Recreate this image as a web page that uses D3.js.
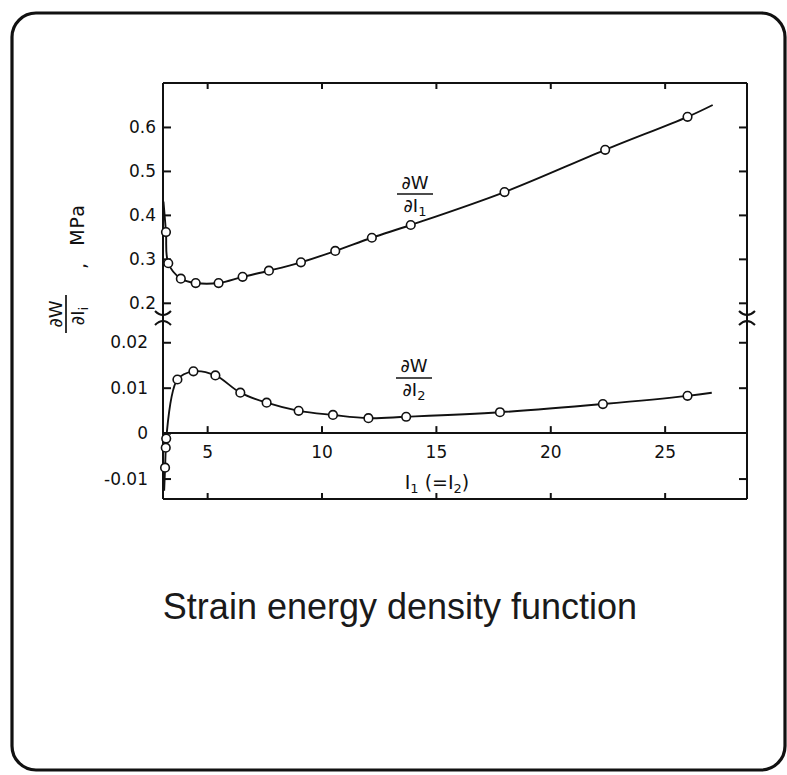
<!DOCTYPE html>
<html><head><meta charset="utf-8">
<script src="https://cdn.jsdelivr.net/npm/d3@7"></script>
<style>body{margin:0;background:#fff;} svg{display:block;}</style>
</head><body>
<svg id="c" width="787" height="775"></svg>
<script>
// ---- data ----
const xTicks = [5, 10, 15, 20, 25];
const xTickLabels = ["5", "10", "15", "20", "25"];
const upperTicks = [0.2, 0.3, 0.4, 0.5, 0.6];
const upperTickLabels = ["0.2", "0.3", "0.4", "0.5", "0.6"];
const lowerTicks = [0.02, 0.01, 0, -0.01];
const lowerTickLabels = ["0.02", "0.01", "0", "-0.01"];

// dW/dI1 (MPa) — markers
const i1Markers = [3.20, 3.30, 3.85, 4.50, 5.50, 6.55, 7.70, 9.10, 10.6, 12.2, 13.9, 18.0, 22.4, 26.0];
const dWdI1 = [0.361, 0.290, 0.255, 0.245, 0.245, 0.259, 0.273, 0.292, 0.318, 0.348, 0.377, 0.452, 0.548, 0.623];
const dWdI1Start = [3.09, 0.430];
const dWdI1End = [27.1, 0.650];

// dW/dI2 (MPa) — markers
const i2Markers = [3.16, 3.19, 3.21, 3.70, 4.40, 5.36, 6.45, 7.60, 9.00, 10.5, 12.05, 13.7, 17.8, 22.3, 26.0];
const dWdI2 = [-0.0076, -0.0032, -0.0012, 0.0118, 0.0136, 0.0127, 0.0089, 0.0067, 0.0049, 0.0040, 0.0033, 0.0036, 0.0046, 0.0064, 0.0082];
const dWdI2Start = [3.12, -0.0127];
const dWdI2End = [27.06, 0.0089];

const xDomain = [3.07, 28.6];
const upperDomain = [0.17, 0.70];
const lowerDomain = [-0.0145, 0.0249];

// ---- layout ----
const svg = d3.select("#c");
const L = 163, R = 747, T = 83, B = 499;
const breakTop = 316, breakBot = 320;

const x = d3.scaleLinear().domain(xDomain).range([L, R]);
const yU = d3.scaleLinear().domain(upperDomain).range([breakTop, T]);
const yL = d3.scaleLinear().domain(lowerDomain).range([B, breakBot]);

const ink = "#111";
const FONT = "DejaVu Sans, sans-serif";

// outer rounded frame
svg.append("rect").attr("x", 12).attr("y", 13).attr("width", 773).attr("height", 757)
  .attr("rx", 24).attr("fill", "none").attr("stroke", ink).attr("stroke-width", 3.2);

// plot frame
const g = svg.append("g").attr("stroke", ink).attr("fill", "none").attr("stroke-width", 2);
g.append("line").attr("x1", L).attr("x2", L).attr("y1", T).attr("y2", B);
g.append("line").attr("x1", R).attr("x2", R).attr("y1", T).attr("y2", B);
g.append("line").attr("x1", L).attr("x2", R).attr("y1", T).attr("y2", T);
g.append("line").attr("x1", L).attr("x2", R).attr("y1", B).attr("y2", B);
// zero line
g.append("line").attr("x1", L).attr("x2", R).attr("y1", yL(0)).attr("y2", yL(0));

// axes via d3
function styleAxis(sel) {
  sel.select(".domain").remove();
  sel.selectAll(".tick line").attr("stroke", ink).attr("stroke-width", 2);
  sel.selectAll(".tick text").attr("fill", ink).attr("font-family", FONT).attr("font-size", 17);
}
// left upper
svg.append("g").attr("transform", `translate(${L},0)`)
  .call(d3.axisLeft(yU).tickValues(upperTicks).tickFormat((d, i) => upperTickLabels[i]).tickSizeInner(-8).tickSizeOuter(0).tickPadding(7))
  .call(styleAxis);
// left lower (zero handled by zero line)
svg.append("g").attr("transform", `translate(${L},0)`)
  .call(d3.axisLeft(yL).tickValues(lowerTicks).tickFormat((d, i) => lowerTickLabels[i]).tickSizeInner(-8).tickSizeOuter(0).tickPadding(15))
  .call(styleAxis);
// right ticks
svg.append("g").attr("transform", `translate(${R},0)`)
  .call(d3.axisRight(yU).tickValues(upperTicks).tickFormat("").tickSizeInner(-8).tickSizeOuter(0))
  .call(styleAxis);
svg.append("g").attr("transform", `translate(${R},0)`)
  .call(d3.axisRight(yL).tickValues(lowerTicks.filter(d => d !== 0)).tickFormat("").tickSizeInner(-8).tickSizeOuter(0))
  .call(styleAxis);
// x ticks on zero line with labels
svg.append("g").attr("transform", `translate(0,${yL(0)})`)
  .call(d3.axisBottom(x).tickValues(xTicks).tickFormat((d, i) => xTickLabels[i]).tickSizeInner(-7).tickSizeOuter(0).tickPadding(13))
  .call(styleAxis);
// top & bottom ticks
svg.append("g").attr("transform", `translate(0,${T})`)
  .call(d3.axisTop(x).tickValues(xTicks).tickFormat("").tickSizeInner(-6).tickSizeOuter(0))
  .call(styleAxis);
svg.append("g").attr("transform", `translate(0,${B})`)
  .call(d3.axisBottom(x).tickValues(xTicks).tickFormat("").tickSizeInner(-6).tickSizeOuter(0))
  .call(styleAxis);

// break marks
[L, R].forEach(cx => {
  const yb = (breakTop + breakBot) / 2;
  svg.append("path").attr("d", `M${cx-8},${yb-7} Q${cx},${yb+1} ${cx+8},${yb-7}`)
    .attr("fill", "none").attr("stroke", ink).attr("stroke-width", 2);
  svg.append("path").attr("d", `M${cx-8},${yb+7} Q${cx},${yb-1} ${cx+8},${yb+7}`)
    .attr("fill", "none").attr("stroke", ink).attr("stroke-width", 2);
});

// curves
const curve1 = [dWdI1Start, ...i1Markers.map((v, i) => [v, dWdI1[i]]), dWdI1End];
const curve2 = [dWdI2Start, ...i2Markers.map((v, i) => [v, dWdI2[i]]), dWdI2End];
const line1 = d3.line().x(d => x(d[0])).y(d => yU(d[1])).curve(d3.curveCatmullRom.alpha(0.5));
const line2 = d3.line().x(d => x(d[0])).y(d => yL(d[1])).curve(d3.curveCatmullRom.alpha(0.5));
svg.append("path").attr("d", line1(curve1)).attr("fill", "none").attr("stroke", ink).attr("stroke-width", 1.9);
svg.append("path").attr("d", line2(curve2)).attr("fill", "none").attr("stroke", ink).attr("stroke-width", 1.9);

svg.append("g").selectAll("circle").data(i1Markers).join("circle")
  .attr("cx", d => x(d)).attr("cy", (d, i) => yU(dWdI1[i])).attr("r", 4.3)
  .attr("fill", "#fff").attr("stroke", ink).attr("stroke-width", 1.6);
svg.append("g").selectAll("circle").data(i2Markers).join("circle")
  .attr("cx", d => x(d)).attr("cy", (d, i) => yL(dWdI2[i])).attr("r", 4.3)
  .attr("fill", "#fff").attr("stroke", ink).attr("stroke-width", 1.6);

// fraction labels
function fraction(cx, yNum, yBar, yDen, sub) {
  const t = svg.append("g").attr("font-family", FONT).attr("font-size", 18).attr("fill", ink);
  t.append("text").attr("x", cx).attr("y", yNum).attr("text-anchor", "middle").text("∂W");
  t.append("line").attr("x1", cx - 18).attr("x2", cx + 18).attr("y1", yBar).attr("y2", yBar).attr("stroke", ink).attr("stroke-width", 1.7);
  const d = t.append("text").attr("x", cx).attr("y", yDen).attr("text-anchor", "middle");
  d.append("tspan").text("∂I");
  d.append("tspan").attr("font-size", 13).attr("dy", 4).text(sub);
}
fraction(415, 189, 194, 212, "1");
fraction(414, 372, 378, 396, "2");

// x axis title
const xt = svg.append("text").attr("x", 437).attr("y", 489).attr("text-anchor", "middle")
  .attr("font-family", FONT).attr("font-size", 19).attr("fill", ink);
xt.append("tspan").text("I");
xt.append("tspan").attr("font-size", 13).attr("dy", 4).text("1");
xt.append("tspan").attr("dy", -4).text(" (=I");
xt.append("tspan").attr("font-size", 13).attr("dy", 4).text("2");
xt.append("tspan").attr("dy", -4).text(")");

// y axis label (rotated)
const yl = svg.append("g").attr("font-family", FONT).attr("fill", ink);
yl.append("text").attr("transform", "translate(62,314) rotate(-90)").attr("text-anchor", "middle").attr("font-size", 18).text("∂W");
yl.append("line").attr("x1", 66).attr("x2", 66).attr("y1", 295).attr("y2", 333).attr("stroke", ink).attr("stroke-width", 1.7);
const den = yl.append("text").attr("transform", "translate(84,316) rotate(-90)").attr("text-anchor", "middle").attr("font-size", 18);
den.append("tspan").text("∂I");
den.append("tspan").attr("font-size", 13).attr("dy", 4).text("i");
yl.append("text").attr("transform", "translate(86,266) rotate(-90)").attr("text-anchor", "middle").attr("font-size", 19).text(",");
yl.append("text").attr("transform", "translate(84,225) rotate(-90)").attr("text-anchor", "middle").attr("font-size", 19).attr("letter-spacing", 1).text("MPa");

// title
svg.append("text").attr("x", 400).attr("y", 619).attr("text-anchor", "middle")
  .attr("font-family", "Liberation Sans, Arial, sans-serif").attr("font-size", 36).attr("fill", "#1a1a1a")
  .text("Strain energy density function");
</script>
</body></html>
